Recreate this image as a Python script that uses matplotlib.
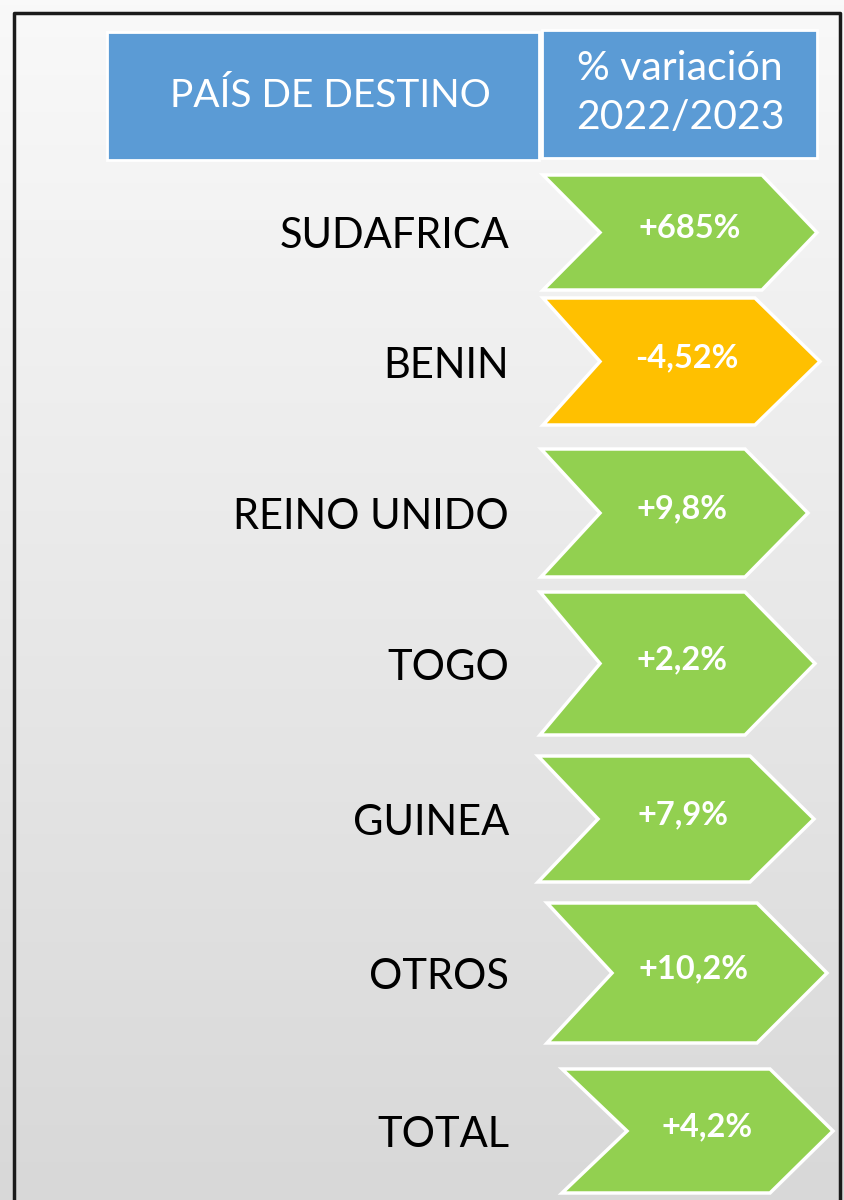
import matplotlib.pyplot as plt
from matplotlib.patches import Polygon, Rectangle
import numpy as np

# Datos
paises = ['SUDAFRICA', 'BENIN', 'REINO UNIDO', 'TOGO', 'GUINEA', 'OTROS', 'TOTAL']
variacion = ['+685%', '-4,52%', '+9,8%', '+2,2%', '+7,9%', '+10,2%', '+4,2%']
colores = ['#92D050', '#FFC000', '#92D050', '#92D050', '#92D050', '#92D050', '#92D050']
cabecera = ['PAÍS DE DESTINO', '% variación\n2022/2023']

# Geometría de las flechas (píxeles): arriba, abajo, izquierda, muesca, derecha, punta
flechas = [
    (175, 290, 543, 600, 762, 817),
    (298, 425, 543, 600, 755, 820),
    (449, 577, 541, 600, 745, 808),
    (592, 735, 540, 600, 745, 815),
    (756, 882, 538, 598, 750, 814),
    (903, 1043, 547, 612, 757, 827),
    (1069, 1193, 562, 627, 770, 833),
]

W, H = 844, 1200
fig = plt.figure(figsize=(W / 100, H / 100), dpi=100)
ax = fig.add_axes([0, 0, 1, 1])
ax.set_xlim(0, W)
ax.set_ylim(H, 0)
ax.axis('off')

# Fondo degradado
grad = np.linspace(0, 1, 256).reshape(-1, 1)
ax.imshow(grad, extent=[0, W, H, 0], aspect='auto',
          cmap=plt.matplotlib.colors.LinearSegmentedColormap.from_list('g', ['#f9f9f9', '#d8d8d8']),
          zorder=0)

# Marco
ax.plot([14, 14, 840, 840], [H, 13, 13, H], color='#1a1a1a', lw=2.5, zorder=1)

# Cabecera
ax.add_patch(Rectangle((107, 32), 432, 128, facecolor='#5B9BD5', edgecolor='white', lw=2, zorder=2))
ax.add_patch(Rectangle((542, 30), 275, 128, facecolor='#5B9BD5', edgecolor='white', lw=2, zorder=2))
ax.text(330, 96, cabecera[0], color='white', fontsize=28, ha='center', va='center',
        family='Lato', zorder=3)
ax.text(680, 93, cabecera[1], color='white', fontsize=29.5, ha='center', va='center',
        family='Lato', linespacing=1.4, zorder=3)

# Filas
for pais, val, col, (t, b, l, n, r, p) in zip(paises, variacion, colores, flechas):
    m = (t + b) / 2
    pts = [(l, t), (r, t), (p, m), (r, b), (l, b), (n, m)]
    ax.add_patch(Polygon(pts, closed=True, facecolor=col, edgecolor='white', lw=2.5, zorder=2))
    ax.text((n + r) / 2 + 9, m - 4, val, color='white', fontsize=23.5, fontweight='bold',
            ha='center', va='center', family='Lato', zorder=3)
    ax.text(509, m + 4, pais, color='black', fontsize=30, ha='right', va='center',
            family='Lato', zorder=3)

fig.savefig('out.png', dpi=100)
